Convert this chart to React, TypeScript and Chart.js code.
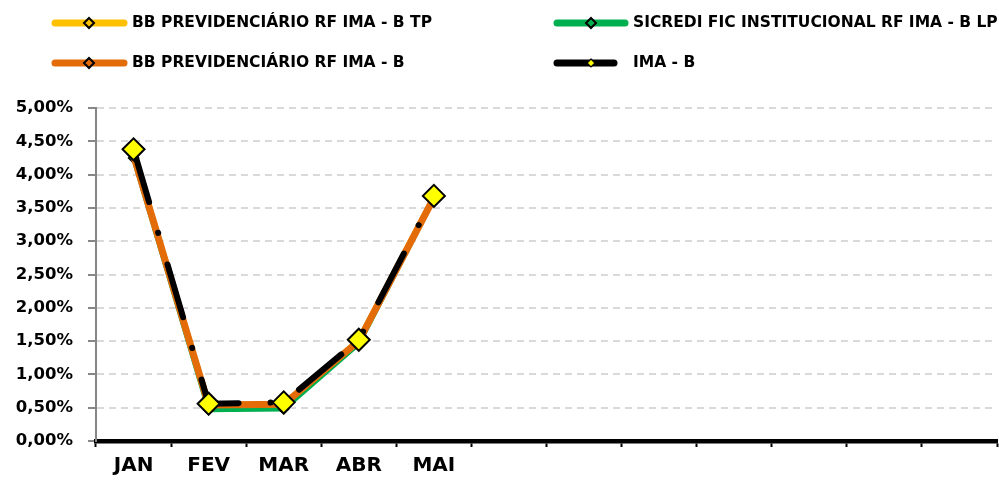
import React, { useEffect, useRef } from "react";
import { Chart, registerables } from "chart.js";

Chart.register(...registerables);

const categories = ["JAN", "FEV", "MAR", "ABR", "MAI", "", "", "", "", "", "", ""];
const bbTp = [4.3, 0.54, 0.55, 1.51, 3.66];
const sicredi = [4.25, 0.47, 0.48, 1.46, 3.64];
const bbImaB = [4.29, 0.54, 0.55, 1.5, 3.65];
const imaB = [4.38, 0.56, 0.58, 1.52, 3.68];
const seriesNames = [
  "BB PREVIDENCIÁRIO RF IMA - B TP",
  "SICREDI FIC INSTITUCIONAL RF IMA - B LP",
  "BB PREVIDENCIÁRIO RF IMA - B",
  "IMA - B",
];
const yTickValues = [0, 0.5, 1, 1.5, 2, 2.5, 3, 3.5, 4, 4.5, 5];

const FONT = "'DejaVu Sans', sans-serif";
const YELLOW = "#FFC000";
const GREEN = "#00B050";
const ORANGE = "#E36C09";
const MARK = "#FFFF00";

const legendLayout = [
  { x0: 52, x1: 127, mx: 89, y: 23, tx: 132, color: YELLOW, fill: YELLOW, r: 5, bw: 2 },
  { x0: 554, x1: 628, mx: 591, y: 23, tx: 633, color: GREEN, fill: GREEN, r: 5, bw: 2 },
  { x0: 52, x1: 127, mx: 89, y: 63, tx: 132, color: ORANGE, fill: ORANGE, r: 5, bw: 2 },
  { x0: 554, x1: 617, mx: 591, y: 63, tx: 633, color: "#000000", fill: MARK, r: 4, bw: 1.2 },
];

const legendPlugin = {
  id: "customLegend",
  afterDraw(chart: any) {
    const ctx = chart.ctx as CanvasRenderingContext2D;
    ctx.save();
    legendLayout.forEach((it, i) => {
      ctx.strokeStyle = it.color;
      ctx.lineWidth = 7;
      ctx.lineCap = "round";
      ctx.beginPath();
      ctx.moveTo(it.x0 + 3, it.y);
      ctx.lineTo(it.x1 - 3, it.y);
      ctx.stroke();
      ctx.beginPath();
      ctx.moveTo(it.mx, it.y - it.r);
      ctx.lineTo(it.mx + it.r, it.y);
      ctx.lineTo(it.mx, it.y + it.r);
      ctx.lineTo(it.mx - it.r, it.y);
      ctx.closePath();
      ctx.fillStyle = it.fill;
      ctx.fill();
      ctx.lineWidth = it.bw;
      ctx.strokeStyle = "#000";
      ctx.lineJoin = "miter";
      ctx.stroke();
      ctx.fillStyle = "#000";
      ctx.font = `bold 15.5px ${FONT}`;
      ctx.textBaseline = "middle";
      ctx.textAlign = "left";
      ctx.fillText(seriesNames[i], it.tx, it.y);
    });
    ctx.restore();
  },
};

export default function App() {
  const ref = useRef<HTMLCanvasElement>(null);
  useEffect(() => {
    if (!ref.current) return;
    const chart = new Chart(ref.current, {
      type: "line",
      data: {
        labels: categories,
        datasets: [
          {
            label: seriesNames[0],
            data: bbTp,
            borderColor: YELLOW,
            backgroundColor: YELLOW,
            borderWidth: 6,
            pointStyle: "rectRot",
            pointRadius: 5,
            pointBorderColor: "#000",
            pointBorderWidth: 1.5,
            order: 2,
          },
          {
            label: seriesNames[1],
            data: sicredi,
            borderColor: GREEN,
            backgroundColor: GREEN,
            borderWidth: 5,
            pointStyle: "rectRot",
            pointRadius: 5,
            pointBorderColor: "#000",
            pointBorderWidth: 1.5,
            order: 3,
          },
          {
            label: seriesNames[2],
            data: bbImaB,
            borderColor: ORANGE,
            backgroundColor: ORANGE,
            borderWidth: 7,
            pointStyle: "rectRot",
            pointRadius: 5,
            pointBorderColor: "#000",
            pointBorderWidth: 1.5,
            order: 1,
          },
          {
            label: seriesNames[3],
            data: imaB,
            borderColor: "#000",
            backgroundColor: MARK,
            borderWidth: 6,
            borderDash: [55, 32, 0.1, 33],
            borderDashOffset: 0,
            borderCapStyle: "round",
            pointStyle: "rectRot",
            pointRadius: 11,
            pointBorderColor: "#000",
            pointBorderWidth: 2,
            order: 0,
          },
        ],
      },
      options: {
        animation: false,
        responsive: false,
        maintainAspectRatio: false,
        layout: { autoPadding: false, padding: { top: 108, right: 2, left: 0, bottom: 0 } },
        plugins: { legend: { display: false }, tooltip: { enabled: false } },
        elements: { line: { tension: 0 } },
        scales: {
          x: {
            offset: true,
            grid: {
              display: true,
              drawOnChartArea: false,
              drawTicks: true,
              offset: true,
              tickLength: 6,
              tickColor: "#000",
              tickWidth: 2,
            },
            border: { display: true, color: "#000", width: 4.5 },
            ticks: {
              color: "#000",
              font: { family: FONT, size: 20, weight: "bold" },
              padding: 7,
              maxRotation: 0,
              autoSkip: false,
            },
            afterFit(scale: any) {
              scale.height = 45;
              scale.paddingLeft = 0;
              scale.paddingRight = 0;
            },
          },
          y: {
            min: 0,
            max: 5,
            afterBuildTicks(scale: any) {
              scale.ticks = yTickValues.map((v) => ({ value: v }));
            },
            grid: {
              color: "#D9D9D9",
              lineWidth: 2,
              tickColor: "#868686",
              tickLength: 8,
              tickWidth: 2,
              tickBorderDash: [],
            },
            border: { display: true, color: "#868686", width: 2, dash: [7, 5] },
            ticks: {
              color: "#000",
              font: { family: FONT, size: 16.5, weight: "bold" },
              padding: 15,
              callback: (v: any) => Number(v).toFixed(2).replace(".", ",") + "%",
            },
            afterFit(scale: any) {
              scale.width = 96;
            },
          },
        },
      },
      plugins: [legendPlugin],
    });
    return () => chart.destroy();
  }, []);
  return (
    <div style={{ position: "fixed", left: 0, top: 0, width: 999, height: 486, background: "#fff" }}>
      <canvas ref={ref} width={999} height={486} style={{ display: "block" }} />
    </div>
  );
}
